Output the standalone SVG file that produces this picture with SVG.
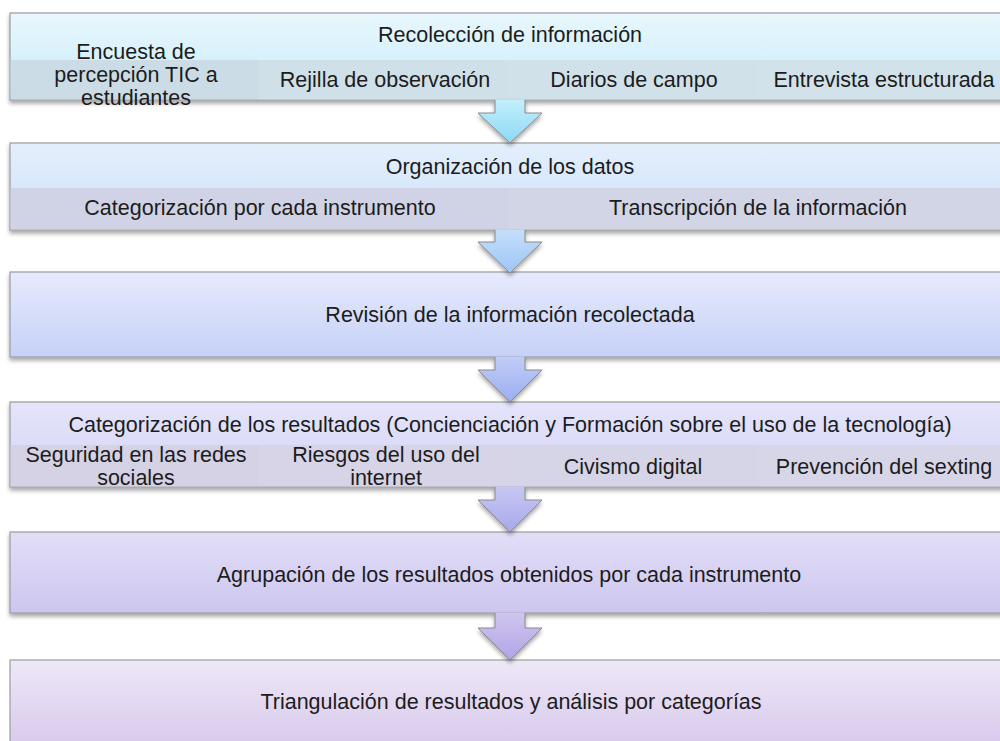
<svg xmlns="http://www.w3.org/2000/svg" width="1000" height="741" viewBox="0 0 1000 741">
<defs>
<filter id="sh" x="-5%" y="-20%" width="110%" height="150%">
<feGaussianBlur in="SourceAlpha" stdDeviation="2"/>
<feOffset dy="3" result="b"/>
<feComponentTransfer><feFuncA type="linear" slope="0.35"/></feComponentTransfer>
<feMerge><feMergeNode/><feMergeNode in="SourceGraphic"/></feMerge>
</filter>
<linearGradient id="g1" x1="0" y1="0" x2="0" y2="1"><stop offset="0" stop-color="#e8f7fc"/><stop offset="1" stop-color="#c8ecfb"/></linearGradient>
<linearGradient id="g2" x1="0" y1="0" x2="0" y2="1"><stop offset="0" stop-color="#e4effc"/><stop offset="1" stop-color="#cce1fb"/></linearGradient>
<linearGradient id="g3" x1="0" y1="0" x2="0" y2="1"><stop offset="0" stop-color="#e6eafc"/><stop offset="1" stop-color="#c6d1f8"/></linearGradient>
<linearGradient id="g4" x1="0" y1="0" x2="0" y2="1"><stop offset="0" stop-color="#e4e4fb"/><stop offset="1" stop-color="#d4d4f6"/></linearGradient>
<linearGradient id="g5" x1="0" y1="0" x2="0" y2="1"><stop offset="0" stop-color="#e2def7"/><stop offset="1" stop-color="#cdc6f0"/></linearGradient>
<linearGradient id="g6" x1="0" y1="0" x2="0" y2="1"><stop offset="0" stop-color="#eee8f7"/><stop offset="1" stop-color="#d4c4ea"/></linearGradient>
<linearGradient id="a1" x1="0" y1="0" x2="0" y2="1"><stop offset="0" stop-color="#c4f0fc"/><stop offset="1" stop-color="#8cd8f6"/></linearGradient>
<linearGradient id="a2" x1="0" y1="0" x2="0" y2="1"><stop offset="0" stop-color="#c6defa"/><stop offset="1" stop-color="#9cc6f6"/></linearGradient>
<linearGradient id="a3" x1="0" y1="0" x2="0" y2="1"><stop offset="0" stop-color="#c2cdf7"/><stop offset="1" stop-color="#9aaef0"/></linearGradient>
<linearGradient id="a4" x1="0" y1="0" x2="0" y2="1"><stop offset="0" stop-color="#c8c8f3"/><stop offset="1" stop-color="#a8a8ec"/></linearGradient>
<linearGradient id="a5" x1="0" y1="0" x2="0" y2="1"><stop offset="0" stop-color="#d0c6f0"/><stop offset="1" stop-color="#b2a4e6"/></linearGradient>
</defs>
<style>
.box{stroke:#9c9c9c;stroke-width:1.2}
.sub{stroke:none}
.af{stroke:none}
.ao{fill:none;stroke:#8a8a8a;stroke-width:1}
text{font-family:"Liberation Sans",Arial,sans-serif;font-size:21.5px;fill:#1c1c1c;text-anchor:middle}
</style>
<rect width="1000" height="741" fill="#ffffff"/>

<g id="n1">
<rect class="box" x="10" y="13" width="1000" height="87" fill="url(#g1)" filter="url(#sh)"/>
<rect class="sub" x="10.6" y="60" width="249" height="39.4" fill="#cbdce6"/>
<rect class="sub" x="259" y="60" width="249" height="39.4" fill="#cfe0e8"/>
<rect class="sub" x="508" y="60" width="249" height="39.4" fill="#d0e1e9"/>
<rect class="sub" x="757" y="60" width="252" height="39.4" fill="#d1e2ea"/>
<text x="510" y="42">Recolección de información</text>
<text x="136" y="59">Encuesta de</text>
<text x="136" y="82">percepción TIC a</text>
<text x="136" y="105">estudiantes</text>
<text x="385" y="87">Rejilla de observación</text>
<text x="634" y="87">Diarios de campo</text>
<text x="884" y="87">Entrevista estructurada</text>
</g>

<g id="n2">
<rect class="box" x="10" y="143" width="1000" height="87" fill="url(#g2)" filter="url(#sh)"/>
<rect class="sub" x="10.6" y="188" width="498" height="41.4" fill="#d0d3e5"/>
<rect class="sub" x="508" y="188" width="501" height="41.4" fill="#d2d5e6"/>
<text x="510" y="174">Organización de los datos</text>
<text x="260" y="215">Categorización por cada instrumento</text>
<text x="758" y="215">Transcripción de la información</text>
</g>

<g id="n3">
<rect class="box" x="10" y="272" width="1000" height="85" fill="url(#g3)" filter="url(#sh)"/>
<text x="510" y="322">Revisión de la información recolectada</text>
</g>

<g id="n4">
<rect class="box" x="10" y="402" width="1000" height="85" fill="url(#g4)" filter="url(#sh)"/>
<rect class="sub" x="10.6" y="445" width="249" height="41.4" fill="#d4d2e4"/>
<rect class="sub" x="259" y="445" width="249" height="41.4" fill="#d6d4e6"/>
<rect class="sub" x="508" y="445" width="249" height="41.4" fill="#d6d5e7"/>
<rect class="sub" x="757" y="445" width="252" height="41.4" fill="#d7d6e8"/>
<text x="510" y="432">Categorización de los resultados (Concienciación y Formación sobre el uso de la tecnología)</text>
<text x="136" y="462">Seguridad en las redes</text>
<text x="136" y="485">sociales</text>
<text x="386" y="462">Riesgos del uso del</text>
<text x="386" y="485">internet</text>
<text x="633" y="474">Civismo digital</text>
<text x="884" y="474">Prevención del sexting</text>
</g>

<g id="n5">
<rect class="box" x="10" y="532" width="1000" height="81" fill="url(#g5)" filter="url(#sh)"/>
<text x="509" y="582">Agrupación de los resultados obtenidos por cada instrumento</text>
</g>

<g id="n6">
<rect class="box" x="10" y="660" width="1000" height="100" fill="url(#g6)"/>
<text x="511" y="709">Triangulación de resultados y análisis por categorías</text>
</g>

<g id="connectors">
<g filter="url(#sh)">
<path class="af" fill="url(#a1)" d="M495,99.4 L495,113 L478,113 L510,143 L542,113 L525,113 L525,99.4 Z"/>
<path class="ao" d="M495,100 L495,113 L478,113 L510,143 L542,113 L525,113 L525,100"/>
</g>
<g filter="url(#sh)">
<path class="af" fill="url(#a2)" d="M495,229.4 L495,242 L478,242 L510,273 L542,242 L525,242 L525,229.4 Z"/>
<path class="ao" d="M495,230 L495,242 L478,242 L510,273 L542,242 L525,242 L525,230"/>
</g>
<g filter="url(#sh)">
<path class="af" fill="url(#a3)" d="M495,356.4 L495,370 L478,370 L510,402 L542,370 L525,370 L525,356.4 Z"/>
<path class="ao" d="M495,357 L495,370 L478,370 L510,402 L542,370 L525,370 L525,357"/>
</g>
<g filter="url(#sh)">
<path class="af" fill="url(#a4)" d="M495,486.4 L495,500 L478,500 L510,532 L542,500 L525,500 L525,486.4 Z"/>
<path class="ao" d="M495,487 L495,500 L478,500 L510,532 L542,500 L525,500 L525,487"/>
</g>
<g filter="url(#sh)">
<path class="af" fill="url(#a5)" d="M495,612.4 L495,628 L478,628 L510,660 L542,628 L525,628 L525,612.4 Z"/>
<path class="ao" d="M495,613 L495,628 L478,628 L510,660 L542,628 L525,628 L525,613"/>
</g>
</g>
</svg>
